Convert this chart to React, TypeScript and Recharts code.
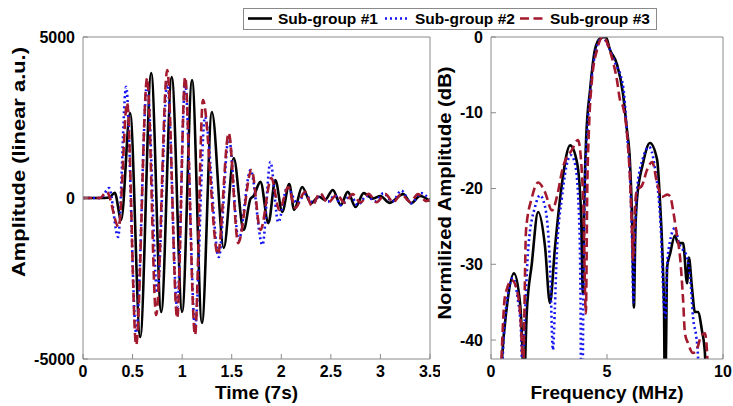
import React from 'react';
import { LineChart, Line, XAxis, YAxis, Label } from 'recharts';

// ---------- tick labels / axis text ----------
const timeTicks = [0, 0.5, 1, 1.5, 2, 2.5, 3, 3.5];
const ampTicks = [-5000, 0, 5000];
const freqTicks = [0, 5, 10];
const dbTicks = [-40, -30, -20, -10, 0];
const seriesNames = ['Sub-group #1', 'Sub-group #2', 'Sub-group #3'];
const timeLabel = 'Time (7s)';
const ampLabel = 'Amplitude (linear a.u.)';
const freqLabel = 'Frequency (MHz)';
const dbLabel = 'Normilized Amplitude (dB)';

// ---------- time-domain signals: [time (us), amplitude] ----------
const timeSub1: number[][] = [
  [0, 0], [0.22, 0], [0.27, 20], [0.32, 165], [0.385, -680], [0.475, 2640], [0.577, -4317],
  [0.688, 3880], [0.789, -3540], [0.895, 3760], [1.0, -3540], [1.1, 3665], [1.2, -3880],
  [1.3, 2670], [1.42, -1550], [1.52, 1240], [1.62, -990], [1.69, -20], [1.72, 60], [1.79, 500],
  [1.87, -780], [1.94, 560], [2.01, -430], [2.08, 430], [2.13, -370], [2.21, 340], [2.3, -160],
  [2.38, 40], [2.44, -60], [2.52, 250], [2.6, -220], [2.67, 190], [2.75, -280], [2.83, 150],
  [2.92, -20], [3.0, 60], [3.09, -150], [3.23, 120], [3.31, -160], [3.4, 60], [3.5, -100],
];
const timeSub2: number[][] = [
  [0, 0], [0.18, 0], [0.263, 310], [0.354, -1210], [0.435, 3450], [0.536, -4190], [0.647, 3570],
  [0.749, -2950], [0.85, 3600], [0.95, -3390], [1.03, 3570], [1.13, -4007], [1.23, 2516],
  [1.37, -1833], [1.47, 1895], [1.57, -1305], [1.69, 870], [1.81, -1460], [1.89, 1120],
  [1.97, -750], [2.06, 340], [2.16, -160], [2.24, 120], [2.32, -150], [2.4, 100], [2.47, -120],
  [2.54, 80], [2.6, -220], [2.7, 80], [2.77, -220], [2.86, 60], [2.95, -100], [3.03, 150],
  [3.12, -110], [3.21, 230], [3.31, -160], [3.41, 150], [3.5, -60],
];
const timeSub3: number[][] = [
  [0, 0], [0.17, 0], [0.24, 190], [0.36, -900], [0.445, 2950], [0.536, -4566], [0.647, 3727],
  [0.738, -3634], [0.85, 3976], [0.95, -3730], [1.03, 3760], [1.13, -4255], [1.21, 3044],
  [1.36, -1750], [1.47, 2019], [1.565, -1400], [1.7, 870], [1.79, -994], [1.9, 621], [1.98, -373],
  [2.07, 340], [2.14, -310], [2.24, 190], [2.31, -250], [2.39, 150], [2.47, -150], [2.56, 100],
  [2.64, -150], [2.72, 120], [2.8, -140], [2.88, 130], [2.96, -130], [3.05, 120], [3.13, -130],
  [3.21, 120], [3.3, -120], [3.38, 120], [3.46, -100], [3.5, -50],
];

// ---------- spectra: [frequency (MHz), normalized amplitude (dB)] ----------
const specSub1: number[][] = [
  [0.3, -55], [0.47, -42.7], [0.68, -35.7], [0.99, -31.2], [1.25, -35.1], [1.36, -42], [1.42, -50],
  [1.48, -42], [1.54, -36.5], [1.76, -29.9], [2.03, -23.1], [2.33, -27.7], [2.54, -35.1],
  [2.76, -27.7], [3.06, -19.3], [3.41, -14.3], [3.71, -16.6], [3.88, -23.2], [3.96, -33.8],
  [4.02, -22], [4.1, -13.5], [4.27, -7], [4.48, -1.7], [4.7, -0.2], [4.95, 0], [5.13, -1.7],
  [5.43, -3.6], [5.69, -7.5], [5.85, -12], [5.99, -16.5], [6.08, -23.8], [6.16, -35.7],
  [6.22, -26], [6.29, -21.5], [6.55, -16.7], [6.85, -14.0], [7.16, -16.2], [7.28, -21.5],
  [7.41, -30.4], [7.46, -36.5], [7.5, -50], [7.55, -40], [7.59, -30.4], [7.72, -28.6],
  [7.93, -26.2], [8.06, -27.2], [8.28, -27.2], [8.45, -32.5], [8.53, -29.1], [8.66, -33],
  [8.79, -36.3], [8.92, -36.3], [9.09, -38.7], [9.22, -41.7], [9.3, -50],
];
const specSub2: number[][] = [
  [0.35, -55], [0.5, -42.5], [0.7, -34.5], [0.95, -31.8], [1.15, -34.5], [1.29, -38.7],
  [1.36, -45], [1.45, -38], [1.61, -27.7], [1.9, -22.4], [2.11, -20.9], [2.33, -22.4],
  [2.54, -29.9], [2.67, -41.3], [2.75, -36], [2.83, -29], [3.06, -21.1], [3.32, -16.2],
  [3.44, -15.6], [3.62, -16.7], [3.79, -23.2], [3.86, -35], [3.89, -55], [3.93, -55],
  [3.97, -38], [4.05, -20], [4.18, -11], [4.3, -6.5], [4.5, -2], [4.8, 0], [5.1, -1.5],
  [5.4, -3.8], [5.56, -4.8], [5.75, -8], [5.86, -12.7], [6.0, -19], [6.08, -27], [6.14, -35],
  [6.2, -27], [6.3, -20], [6.55, -16], [6.81, -14.5], [7.05, -17], [7.33, -25.9], [7.46, -35.7],
  [7.52, -37], [7.58, -31], [7.63, -28.6], [7.93, -25.2], [8.1, -27.2], [8.45, -29.1],
  [8.62, -33], [8.71, -37], [8.85, -39.6], [8.92, -42], [9.0, -50],
];
const specSub3: number[][] = [
  [0.3, -55], [0.45, -42.5], [0.6, -34.3], [0.9, -32.1], [1.12, -33.4], [1.33, -40.4],
  [1.38, -46], [1.43, -38], [1.51, -25.5], [1.77, -21.1], [2.03, -19.2], [2.33, -20.5],
  [2.63, -22.9], [2.84, -21.1], [3.1, -17.2], [3.49, -14.9], [3.75, -13.6], [3.97, -21.1],
  [4.09, -36.5], [4.15, -20], [4.22, -12.3], [4.35, -5.7], [4.57, -1.7], [4.82, 0], [5.2, -2.6],
  [5.43, -5.7], [5.56, -8.3], [5.69, -9.2], [5.86, -12.7], [6.0, -19.3], [6.08, -25.9],
  [6.12, -29.5], [6.18, -24], [6.29, -20.2], [6.51, -19.6], [6.72, -17.6], [6.95, -16.5],
  [7.16, -19.3], [7.37, -21.1], [7.6, -20.8], [7.72, -21], [7.85, -22.9], [8.0, -25.9],
  [8.15, -29.1], [8.28, -34.7], [8.36, -39.1], [8.49, -40.4], [8.71, -41.7], [8.9, -41],
  [9.05, -39.5], [9.22, -39.1], [9.36, -45], [9.45, -55],
];

// ---------- styles ----------
const FONT = "'Liberation Sans', Arial, Helvetica, sans-serif";
const FRAME = '#8a8a8a';
const seriesStyles = [
  { color: '#000000', dash: undefined as string | undefined, width: 2.6 },
  { color: '#1414f0', dash: '2 3', width: 2.6 },
  { color: '#a31a2e', dash: '9 4.5', width: 2.6 },
];

const toPts = (arr: number[][]) => arr.map(([x, y]) => ({ x, y }));
const timeSeries = [timeSub1, timeSub2, timeSub3].map(toPts);
const specSeries = [specSub1, specSub2, specSub3].map(toPts);

const tickStyle = { fill: '#000', fontSize: 16, fontWeight: 700, fontFamily: FONT };
const labelText = { fill: '#000', fontSize: 19, fontWeight: 700, fontFamily: FONT };

const VLabel = (props: any) => {
  const vb = props.viewBox || { x: 0, y: 0, width: 0, height: 0 };
  const cx = vb.x + props.dx0;
  const cy = vb.y + vb.height / 2 + props.dy0;
  return (
    <text
      x={cx}
      y={cy}
      transform={`rotate(-90 ${cx} ${cy})`}
      textAnchor="middle"
      textLength={props.len}
      lengthAdjust="spacingAndGlyphs"
      style={labelText}
    >
      {props.text}
    </text>
  );
};

const HLabel = (props: any) => {
  const vb = props.viewBox || { x: 0, y: 0, width: 0, height: 0 };
  return (
    <text x={vb.x + vb.width / 2} y={vb.y + props.dy0} textAnchor="middle" style={labelText}>
      {props.text}
    </text>
  );
};

const Legend = () => (
  <div
    style={{
      position: 'absolute', left: 243, top: 8, width: 414, height: 22, boxSizing: 'border-box',
      border: `1px solid ${FRAME}`, background: '#fff',
    }}
  >
    <svg width={412} height={20} style={{ display: 'block' }}>
      {seriesNames.map((name, i) => {
        const x0 = [4, 141, 276][i];
        const s = seriesStyles[i];
        return (
          <g key={name}>
            <line x1={x0} x2={x0 + 24} y1={9.5} y2={9.5} stroke={s.color} strokeWidth={s.width}
              strokeDasharray={s.dash} />
            <text x={x0 + 30} y={14.5} style={{ fill: '#000', fontSize: 15.5, fontWeight: 700, fontFamily: FONT }}>
              {name}
            </text>
          </g>
        );
      })}
    </svg>
  </div>
);

export default function App() {
  return (
    <div style={{ position: 'absolute', left: 0, top: 0, width: 733, height: 406, background: '#fff', overflow: 'hidden' }}>
      {/* Left: time-domain */}
      <div style={{ position: 'absolute', left: 0, top: 0 }}>
        <LineChart width={440} height={406} margin={{ top: 37, right: 10, bottom: 0, left: 0 }}>
          <XAxis xAxisId="b" dataKey="x" type="number" domain={[0, 3.5]} ticks={timeTicks} interval={0}
            allowDataOverflow height={47} tickSize={-5} tickMargin={12} stroke={FRAME} tick={tickStyle}>
            <Label content={(p: any) => <HLabel {...p} text={timeLabel} dy0={40} />} />
          </XAxis>
          <XAxis xAxisId="t" orientation="top" dataKey="x" type="number" domain={[0, 3.5]} ticks={timeTicks}
            interval={0} allowDataOverflow mirror tick={false} tickSize={5} stroke={FRAME} />
          <YAxis yAxisId="l" type="number" domain={[-5000, 5000]} ticks={ampTicks} interval={0} allowDataOverflow
            width={83} tickSize={-5} tickMargin={13} stroke={FRAME} tick={tickStyle}>
            <Label content={(p: any) => <VLabel {...p} text={ampLabel} dx0={24.5} dy0={-36} len={230} />} />
          </YAxis>
          <YAxis yAxisId="r" orientation="right" type="number" domain={[-5000, 5000]} ticks={ampTicks}
            interval={0} allowDataOverflow mirror tick={false} tickSize={5} stroke={FRAME} />
          {timeSeries.map((d, i) => (
            <Line key={i} xAxisId="b" yAxisId="l" data={d} dataKey="y" type="monotone" dot={false}
              activeDot={false} isAnimationActive={false} stroke={seriesStyles[i].color}
              strokeWidth={seriesStyles[i].width} strokeDasharray={seriesStyles[i].dash} />
          ))}
        </LineChart>
      </div>

      {/* Right: spectra */}
      <div style={{ position: 'absolute', left: 425, top: 0 }}>
        <LineChart width={308} height={406} margin={{ top: 37, right: 10, bottom: 0, left: 0 }}>
          <XAxis xAxisId="b" dataKey="x" type="number" domain={[0, 10]} ticks={freqTicks} interval={0}
            allowDataOverflow height={47} tickSize={-5} tickMargin={12} stroke={FRAME} tick={tickStyle}>
            <Label content={(p: any) => <HLabel {...p} text={freqLabel} dy0={40} />} />
          </XAxis>
          <XAxis xAxisId="t" orientation="top" dataKey="x" type="number" domain={[0, 10]} ticks={freqTicks}
            interval={0} allowDataOverflow mirror tick={false} tickSize={5} stroke={FRAME} />
          <YAxis yAxisId="l" type="number" domain={[-42.5, 0]} ticks={dbTicks} interval={0} allowDataOverflow
            width={66} tickSize={-5} tickMargin={13} stroke={FRAME} tick={tickStyle}>
            <Label content={(p: any) => <VLabel {...p} text={dbLabel} dx0={26} dy0={-5} len={253} />} />
          </YAxis>
          <YAxis yAxisId="r" orientation="right" type="number" domain={[-42.5, 0]} ticks={dbTicks}
            interval={0} allowDataOverflow mirror tick={false} tickSize={5} stroke={FRAME} />
          {specSeries.map((d, i) => (
            <Line key={i} xAxisId="b" yAxisId="l" data={d} dataKey="y" type="monotone" dot={false}
              activeDot={false} isAnimationActive={false} stroke={seriesStyles[i].color}
              strokeWidth={seriesStyles[i].width} strokeDasharray={seriesStyles[i].dash} />
          ))}
        </LineChart>
      </div>

      <Legend />
    </div>
  );
}
